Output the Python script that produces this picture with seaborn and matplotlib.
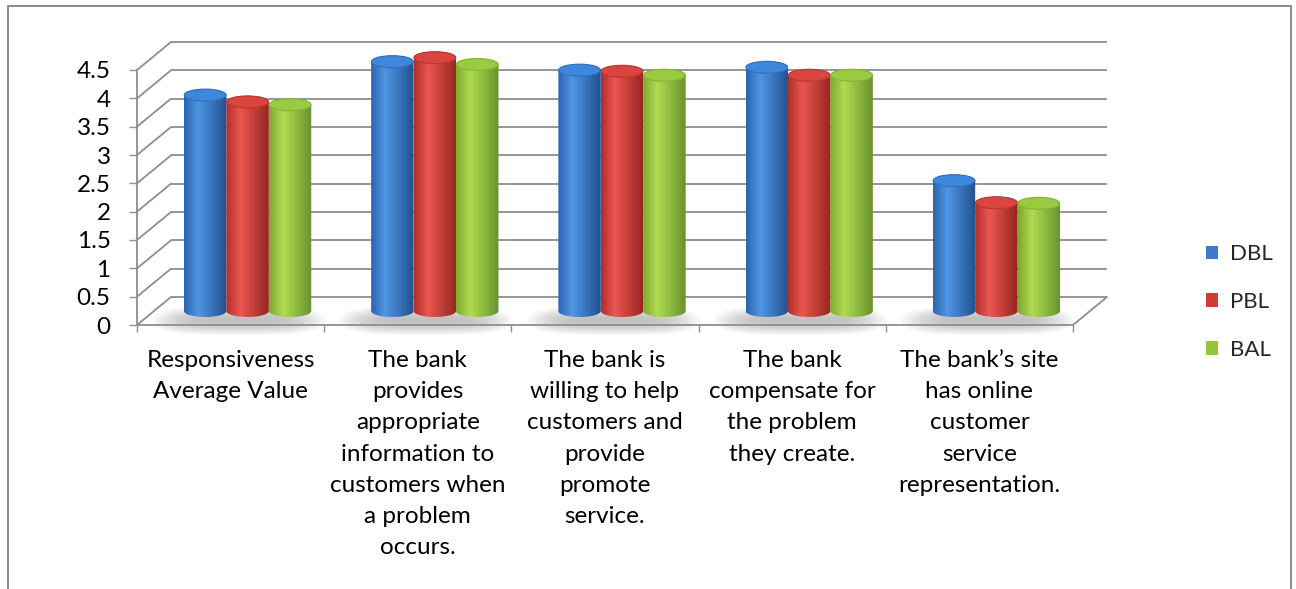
import numpy as np
import pandas as pd
import matplotlib
matplotlib.use("Agg")
import matplotlib.pyplot as plt
import seaborn as sns
from matplotlib.path import Path
from matplotlib.patches import PathPatch, Ellipse, Rectangle, ConnectionPatch
from matplotlib.colors import LinearSegmentedColormap

# ---- data -------------------------------------------------------------
categories = [
    "Responsiveness\nAverage Value",
    "The bank\nprovides\nappropriate\ninformation to\ncustomers when\na problem\noccurs.",
    "The bank is\nwilling to help\ncustomers and\nprovide\npromote\nservice.",
    "The bank\ncompensate for\nthe problem\nthey create.",
    "The bank\u2019s site\nhas online\ncustomer\nservice\nrepresentation.",
]
banks = ["DBL", "PBL", "BAL"]
dbl = [3.81, 4.40, 4.25, 4.30, 2.30]
pbl = [3.69, 4.47, 4.23, 4.16, 1.91]
bal = [3.64, 4.35, 4.16, 4.16, 1.90]
y_ticks = [0, 0.5, 1, 1.5, 2, 2.5, 3, 3.5, 4, 4.5]
y_tick_labels = ["0", "0.5", "1", "1.5", "2", "2.5", "3", "3.5", "4", "4.5"]

# ---- styling ----------------------------------------------------------
sns.set_theme(style="white")
plt.rcParams["font.family"] = ["Lato", "DejaVu Sans"]

base_colors = {"DBL": "#3b7bd0", "PBL": "#d23c36", "BAL": "#93c53c"}
side_shades = {  # dark edge, highlight, dark edge
    "DBL": ["#2d63ae", "#4f96e4", "#21508f"],
    "PBL": ["#b02e29", "#ec5650", "#95251f"],
    "BAL": ["#7fa82f", "#afdc52", "#69922a"],
}
cap_colors = {"DBL": "#3f87da", "PBL": "#da453f", "BAL": "#99cb41"}
cap_edges = {"DBL": "#3170c0", "PBL": "#bb3530", "BAL": "#86b236"}
grid_color = "#8e8e8e"
font_size = 17.5
legend_font_size = 16

W, H = 1296, 589
fig = plt.figure(figsize=(W / 100, H / 100), dpi=100)
fig.patch.set_facecolor("white")


def fx(px):
    return px / W


def fy(py):
    return 1 - py / H


# Three parallel planes (front, bars, back wall) sharing the same scales.
ylo, yhi = -0.5, 4.7
unit_px = 255 / 4.5
cat_px = 187.2


def plane_axes(left_px, zero_px):
    bottom_px = zero_px - ylo * unit_px
    top_px = zero_px - yhi * unit_px
    a = fig.add_axes([fx(left_px), fy(bottom_px), cat_px * 5 / W, (bottom_px - top_px) / H])
    a.set_xlim(-0.5, 4.5)
    a.set_ylim(ylo, yhi)
    a.patch.set_alpha(0)
    return a


ax_back = plane_axes(171, 297)
ax = plane_axes(154, 311)
ax_front = plane_axes(137, 325)

# back wall gridlines
for s in ax_back.spines.values():
    s.set_visible(False)
ax_back.set_xticks([])
ax_back.set_yticks(y_ticks)
ax_back.set_yticklabels([])
ax_back.tick_params(axis="y", length=0)
ax_back.grid(axis="y", color=grid_color, linewidth=1.3)
ax_back.set_axisbelow(True)

# ---- bars -------------------------------------------------------------
df = pd.DataFrame({
    "category": categories * 3,
    "bank": np.repeat(banks, len(categories)),
    "score": dbl + pbl + bal,
})
sns.barplot(data=df, x="category", y="score", hue="bank", hue_order=banks,
            palette=base_colors, width=0.68, saturation=1, errorbar=None,
            legend=False, ax=ax)
ax.set_xlim(-0.5, 4.5)
ax.set_ylim(ylo, yhi)
ax.set_axis_off()

cap_half = 6 / unit_px  # half-height of the elliptical caps, data units
t = np.linspace(0, np.pi, 80)

# soft floor shadows under each group
group_edges = {}
for container in ax.containers:
    for i, rect in enumerate(container.patches):
        x0, x1 = rect.get_x(), rect.get_x() + rect.get_width()
        lo, hi = group_edges.get(i, (x0, x1))
        group_edges[i] = (min(lo, x0), max(hi, x1))

for i, (gl, gr) in group_edges.items():
    ext = (gl - 0.17, gr + 0.12, -0.42, 0.14)
    nx, ny = 200, 60
    u = np.linspace(-1, 1, nx)
    v = np.linspace(-1, 1, ny)
    U, V = np.meshgrid(u, v)
    alpha = 0.45 * np.clip(1 - (np.abs(U + 0.05) ** 4 + np.abs(V + 0.1) ** 2), 0, 1) ** 1.5
    rgba = np.zeros((ny, nx, 4))
    rgba[..., :3] = 0.45
    rgba[..., 3] = alpha
    ax.imshow(rgba, extent=ext, origin="lower", aspect="auto", zorder=1,
              interpolation="bilinear")

for bank, container in zip(banks, ax.containers):
    cmap = LinearSegmentedColormap.from_list(
        bank, [(0, side_shades[bank][0]), (0.33, side_shades[bank][1]),
               (1, side_shades[bank][2])])
    for rect in container.patches:
        x0, w, h = rect.get_x(), rect.get_width(), rect.get_height()
        cx, a = x0 + w / 2, w / 2
        top = np.column_stack([cx - a * np.cos(t), h + cap_half * np.sin(t)])
        bot = np.column_stack([cx + a * np.cos(t), -cap_half * np.sin(t)])
        verts = np.vstack([top, bot, top[:1]])
        codes = [Path.MOVETO] + [Path.LINETO] * (len(verts) - 2) + [Path.CLOSEPOLY]
        body = PathPatch(Path(verts, codes), facecolor="none", edgecolor="none",
                         transform=ax.transData)
        ax.add_patch(body)
        rect.set_visible(False)
        grad = np.linspace(0, 1, 256)[None, :]
        im = ax.imshow(grad, cmap=cmap, extent=(x0, x0 + w, -cap_half, h + cap_half),
                       aspect="auto", origin="lower", zorder=3, interpolation="bilinear")
        im.set_clip_path(body)
        ax.add_patch(Ellipse((cx, h), w * 0.985, 2 * cap_half, facecolor=cap_colors[bank],
                             edgecolor=cap_edges[bank], linewidth=0.8, zorder=4))

ax.set_xlim(-0.5, 4.5)
ax.set_ylim(ylo, yhi)

# ---- front plane: value axis and category axis -------------------------
for side in ("top", "right"):
    ax_front.spines[side].set_visible(False)
ax_front.spines["left"].set_bounds(0, 4.5)
ax_front.spines["bottom"].set_position(("data", 0))
ax_front.spines["bottom"].set_bounds(-0.5, 4.5)
for side in ("left", "bottom"):
    ax_front.spines[side].set_color(grid_color)
    ax_front.spines[side].set_linewidth(1.3)

ax_front.set_yticks(y_ticks)
ax_front.set_yticklabels(y_tick_labels)
ax_front.tick_params(axis="y", direction="out", length=6, width=1.0, color=grid_color,
                     pad=13, labelsize=font_size, labelcolor="black", left=True)
ax_front.set_xticks(np.arange(-0.5, 5, 1))
ax_front.set_xticklabels([])
ax_front.set_xticks(range(len(categories)), minor=True)
ax_front.set_xticklabels(categories, minor=True, linespacing=1.6, fontsize=font_size)
ax_front.tick_params(axis="x", which="major", direction="out", length=5, width=1.0,
                     color=grid_color, bottom=True)
ax_front.tick_params(axis="x", which="minor", length=0, pad=18, labelcolor="black")

# depth edges linking the front plane to the back wall
for v in y_ticks:
    fig.add_artist(ConnectionPatch(xyA=(-0.5, v), coordsA=ax_front.transData,
                                   xyB=(-0.5, v), coordsB=ax_back.transData,
                                   color=grid_color, linewidth=1.3))
fig.add_artist(ConnectionPatch(xyA=(4.5, 0), coordsA=ax_front.transData,
                               xyB=(4.5, 0), coordsB=ax_back.transData,
                               color=grid_color, linewidth=1.3))

# ---- legend -------------------------------------------------------------
handles = [Rectangle((0, 0), 1, 1, facecolor=base_colors[b], edgecolor="none") for b in banks]
fig.legend(handles, banks, loc="center left", bbox_to_anchor=(fx(1206), fy(302)),
           frameon=False, fontsize=legend_font_size, handlelength=0.55, handleheight=0.55,
           handletextpad=0.55, labelspacing=1.25, borderpad=0, borderaxespad=0)

# chart frame
fig.add_artist(Rectangle((fx(8), fy(H + 20)), fx(1291) - fx(8), fy(6) - fy(H + 20),
                         transform=fig.transFigure, facecolor="none",
                         edgecolor="#8a8a8a", linewidth=1.4))

fig.savefig("out.png", dpi=100)
